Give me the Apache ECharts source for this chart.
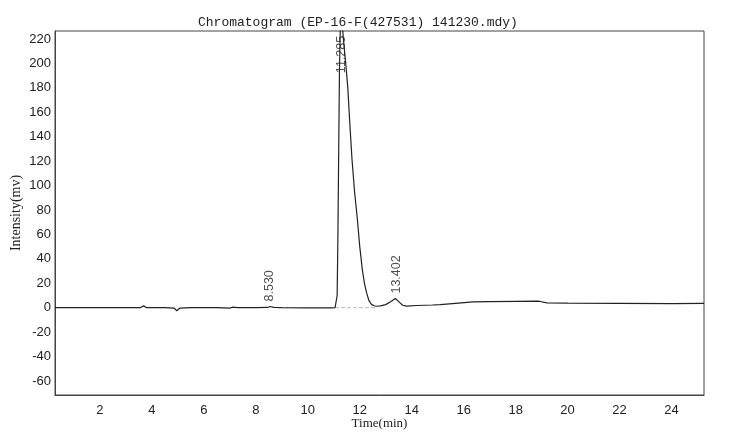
<!DOCTYPE html>
<html>
<head>
<meta charset="utf-8">
<script src="https://cdn.jsdelivr.net/npm/echarts@6/dist/echarts.min.js"></script>
<style>html,body{margin:0;padding:0;background:#fff}#c{width:738px;height:437px}</style>
</head>
<body>
<div id="c"></div>
<script>
// Chromatogram trace: time (min) and intensity (mV)
const times = [0.27,1,2,3,3.55,3.68,3.8,4.5,4.85,4.96,5.08,5.5,6.5,7.0,7.1,7.3,8,8.45,8.55,8.7,9,10,10.9,11.05,11.10,11.13,11.16,11.19,11.22,11.25,11.285,11.33,11.38,11.46,11.54,11.62,11.70,11.80,11.91,12.0,12.1,12.18,12.26,12.35,12.45,12.55,12.65,12.8,13.0,13.2,13.37,13.5,13.65,13.8,14.2,14.8,15.1,15.8,16.35,17,18,18.9,19.2,20,22,24,25.25];
const intensity = [0,0,0,0,0,1.5,0,0,-0.3,-2.5,-0.3,0,0,-0.3,0.4,0,0,0.2,1.0,0.2,0,-0.2,-0.2,0,1,10,60,130,195,228,238,230,218,200,180,150,122,95,72,50,31,20,12.5,6,2.7,1.6,1.2,1.5,2.5,5,7.5,5,2,1.3,1.8,2.2,2.5,3.8,4.8,5,5.2,5.3,4.0,3.8,3.6,3.4,3.5];
// Peak labels
const peakTimes = [8.53, 11.285, 13.402];
const peakLabelAnchor = [1, 188, 7.5];
const peakNames = ['8.530', '11.285', '13.402'];
// Integration baseline under main peak
const baseTimes = [11.05, 12.65];
const baseValues = [0, 0];
// Tick labels
const xTicks = [2,4,6,8,10,12,14,16,18,20,22,24];
const yTicks = [-60,-40,-20,0,20,40,60,80,100,120,140,160,180,200,220];

const chart = echarts.init(document.getElementById('c'));
chart.setOption({
  animation: false,
  backgroundColor: '#fff',
  title: {
    text: 'Chromatogram (EP-16-F(427531) 141230.mdy)',
    left: 193, top: 11,
    textStyle: {fontFamily: 'Liberation Mono', fontWeight: 'normal', fontSize: 13, color: '#222'}
  },
  grid: {left: 55, right: 34, top: 31, bottom: 42, show: true, borderColor: '#444', borderWidth: 1, outerBoundsMode: 'none', containLabel: false},
  xAxis: {
    type: 'value', min: 0.27, max: 25.25,
    name: 'Time(min)', nameLocation: 'middle', nameGap: 22, nameMoveOverlap: false,
    nameTextStyle: {fontFamily: 'Liberation Serif', fontSize: 13, color: '#222'},
    axisLine: {show: true, onZero: false, lineStyle: {color: '#444'}},
    axisTick: {show: false},
    splitLine: {show: false},
    axisLabel: {customValues: xTicks, fontFamily: 'Liberation Sans', fontSize: 13, color: '#222', margin: 9}
  },
  yAxis: {
    type: 'value', min: -71.5, max: 226.6,
    name: 'Intensity(mv)', nameLocation: 'middle', nameGap: 32, nameRotate: 90, nameMoveOverlap: false,
    nameTextStyle: {fontFamily: 'Liberation Serif', fontSize: 14, color: '#222'},
    axisLine: {show: true, onZero: false, lineStyle: {color: '#444'}},
    axisTick: {show: false},
    splitLine: {show: false},
    axisLabel: {customValues: yTicks, fontFamily: 'Liberation Sans', fontSize: 13, color: '#222', margin: 4}
  },
  series: [
    {
      type: 'line', data: baseTimes.map((t,i)=>[t, baseValues[i]]),
      symbol: 'none', lineStyle: {color: '#bbb', width: 1, type: 'dashed'}, z: 1
    },
    {
      type: 'line', data: times.map((t,i)=>[t, intensity[i]]),
      symbol: 'none', clip: true, lineStyle: {color: '#222', width: 1.2}, z: 2
    },
    {
      type: 'scatter', symbolSize: 0,
      data: peakTimes.map((t,i)=>[t, peakLabelAnchor[i]]),
      label: {
        show: true, position: 'top', distance: 5, rotate: 90, align: 'left', verticalAlign: 'middle',
        formatter: p => peakNames[p.dataIndex],
        fontFamily: 'Liberation Sans', fontSize: 12.5, color: '#222'
      }, z: 3
    }
  ]
});
</script>
</body>
</html>
